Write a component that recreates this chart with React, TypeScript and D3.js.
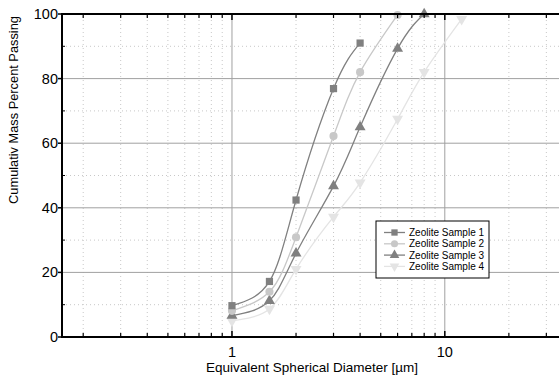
import { useEffect, useRef } from "react";
import * as d3 from "d3";

type Pt = { d: number; v: number };

const sample1: Pt[] = [
  { d: 1, v: 9.7 },
  { d: 1.5, v: 17.2 },
  { d: 2, v: 42.4 },
  { d: 3, v: 76.9 },
  { d: 4, v: 91.0 },
];
const sample2: Pt[] = [
  { d: 1, v: 8.1 },
  { d: 1.5, v: 14.0 },
  { d: 2, v: 30.9 },
  { d: 3, v: 62.2 },
  { d: 4, v: 82.0 },
  { d: 6, v: 99.7 },
];
const sample3: Pt[] = [
  { d: 1, v: 6.6 },
  { d: 1.5, v: 11.2 },
  { d: 2, v: 25.9 },
  { d: 3, v: 46.7 },
  { d: 4, v: 65.0 },
  { d: 6, v: 89.3 },
  { d: 8, v: 100 },
];
const sample4: Pt[] = [
  { d: 1, v: 5.0 },
  { d: 1.5, v: 8.7 },
  { d: 2, v: 21.0 },
  { d: 3, v: 37.2 },
  { d: 4, v: 47.8 },
  { d: 6, v: 67.5 },
  { d: 8, v: 82.0 },
  { d: 12, v: 98.4 },
];

const seriesNames = ["Zeolite Sample 1", "Zeolite Sample 2", "Zeolite Sample 3", "Zeolite Sample 4"];
const seriesData = [sample1, sample2, sample3, sample4];
const seriesColors = ["#808080", "#c8c8c8", "#808080", "#e4e4e4"];
const seriesSymbols = [d3.symbolSquare, d3.symbolCircle, d3.symbolTriangle, d3.symbolTriangle];

const xDomain: [number, number] = [0.159, 34.4];
const yTicks = [0, 20, 40, 60, 80, 100];
const yMinor = [10, 30, 50, 70, 90];
const xMajor = [1, 10];
const xMinor = [0.2, 0.3, 0.4, 0.5, 0.6, 0.7, 0.8, 0.9, 2, 3, 4, 5, 6, 7, 8, 9, 20, 30];

export default function App() {
  const svgRef = useRef<SVGSVGElement>(null);

  useEffect(() => {
    if (!svgRef.current) return;
    const svg = d3.select(svgRef.current);
    svg.selectAll("*").remove();

    const W = 559;
    const H = 381;
    const margin = { top: 14, right: 0, bottom: 44, left: 62 };
    const font = "Liberation Sans, Arial, sans-serif";

    const x = d3.scaleLog().domain(xDomain).range([margin.left, W - margin.right]);
    const y = d3.scaleLinear().domain([0, 100]).range([H - margin.bottom, margin.top]);
    const x0 = margin.left;
    const x1 = W - margin.right;
    const y0 = H - margin.bottom;
    const y1 = margin.top;

    // グリッド（細かい点線）
    const g = svg.append("g");
    xMinor.forEach((t) => {
      g.append("line")
        .attr("x1", x(t)).attr("x2", x(t)).attr("y1", y0).attr("y2", y1)
        .attr("stroke", "#c8c8c8").attr("stroke-dasharray", "1,3");
    });
    yMinor.forEach((t) => {
      g.append("line")
        .attr("x1", x0).attr("x2", x1).attr("y1", y(t)).attr("y2", y(t))
        .attr("stroke", "#c8c8c8").attr("stroke-dasharray", "1,3");
    });
    // 主グリッド
    xMajor.forEach((t) => {
      g.append("line")
        .attr("x1", x(t)).attr("x2", x(t)).attr("y1", y0).attr("y2", y1)
        .attr("stroke", "#a0a0a0");
    });
    yTicks.slice(1, -1).forEach((t) => {
      g.append("line")
        .attr("x1", x0).attr("x2", x1).attr("y1", y(t)).attr("y2", y(t))
        .attr("stroke", "#a0a0a0");
    });

    // 曲線とマーカー
    const line = d3
      .line<Pt>()
      .x((p) => x(p.d))
      .y((p) => y(p.v))
      .curve(d3.curveNatural);

    for (let i = seriesData.length - 1; i >= 0; i--) {
      g.append("path")
        .datum(seriesData[i])
        .attr("fill", "none")
        .attr("stroke", seriesColors[i])
        .attr("stroke-width", 1.3)
        .attr("d", line);
    }
    for (let i = seriesData.length - 1; i >= 0; i--) {
      const sym = d3.symbol().type(seriesSymbols[i]).size(i === 1 ? 52 : 52);
      seriesData[i].forEach((p) => {
        g.append("path")
          .attr("d", sym())
          .attr("transform", `translate(${x(p.d)},${y(p.v)})${i === 3 ? " rotate(180)" : ""}`)
          .attr("fill", seriesColors[i]);
      });
    }

    // 軸
    const ax = svg.append("g");
    ax.append("line").attr("x1", x0).attr("x2", x1).attr("y1", y0).attr("y2", y0)
      .attr("stroke", "#000").attr("stroke-width", 2);
    ax.append("line").attr("x1", x0).attr("x2", x1).attr("y1", y1).attr("y2", y1)
      .attr("stroke", "#000").attr("stroke-width", 2);
    ax.append("line").attr("x1", x0).attr("x2", x0).attr("y1", y0 + 1).attr("y2", y1 - 1)
      .attr("stroke", "#000").attr("stroke-width", 2);

    xMajor.forEach((t) => {
      [y0, y1].forEach((yy, k) => {
        ax.append("line")
          .attr("x1", x(t)).attr("x2", x(t)).attr("y1", yy).attr("y2", k === 0 ? yy - 6 : yy + 6)
          .attr("stroke", "#000").attr("stroke-width", 1.5);
      });
      ax.append("text")
        .attr("x", x(t)).attr("y", y0 + 20)
        .attr("text-anchor", "middle")
        .attr("font-family", font).attr("font-size", 14.5)
        .text(String(t));
    });
    xMinor.forEach((t) => {
      [y0, y1].forEach((yy, k) => {
        ax.append("line")
          .attr("x1", x(t)).attr("x2", x(t)).attr("y1", yy).attr("y2", k === 0 ? yy - 4 : yy + 4)
          .attr("stroke", "#000").attr("stroke-width", 1.2);
      });
    });
    yTicks.forEach((t) => {
      ax.append("line")
        .attr("x1", x0 - 4).attr("x2", x0).attr("y1", y(t)).attr("y2", y(t))
        .attr("stroke", "#000").attr("stroke-width", 1.5);
      ax.append("text")
        .attr("x", x0 - 4).attr("y", y(t) + 5)
        .attr("text-anchor", "end")
        .attr("font-family", font).attr("font-size", 14.5)
        .text(String(t));
    });
    yMinor.forEach((t) => {
      ax.append("line")
        .attr("x1", x0).attr("x2", x0 + 3).attr("y1", y(t)).attr("y2", y(t))
        .attr("stroke", "#000").attr("stroke-width", 1);
    });

    // 軸タイトル
    svg.append("text")
      .attr("x", 312).attr("y", H - 9)
      .attr("text-anchor", "middle")
      .attr("font-family", font).attr("font-size", 13.5)
      .text("Equivalent Spherical Diameter [µm]");
    svg.append("text")
      .attr("transform", `translate(18,110) rotate(-90)`)
      .attr("text-anchor", "middle")
      .attr("font-family", font).attr("font-size", 12.8)
      .text("Cumulativ Mass Percent Passing");

    // 凡例
    const lg = svg.append("g").attr("transform", "translate(376,221)");
    lg.append("rect")
      .attr("width", 113).attr("height", 57)
      .attr("fill", "#fff").attr("stroke", "#000").attr("stroke-width", 1);
    seriesNames.forEach((name, i) => {
      const cy = 11.5 + i * 11.3;
      lg.append("line")
        .attr("x1", 8).attr("x2", 29).attr("y1", cy).attr("y2", cy)
        .attr("stroke", seriesColors[i]).attr("stroke-width", 1.3);
      lg.append("path")
        .attr("d", d3.symbol().type(seriesSymbols[i]).size(40)())
        .attr("transform", `translate(18.5,${cy})${i === 3 ? " rotate(180)" : ""}`)
        .attr("fill", seriesColors[i]);
      lg.append("text")
        .attr("x", 33).attr("y", cy + 3.5)
        .attr("font-family", font).attr("font-size", 10)
        .text(name);
    });
  }, []);

  return (
    <svg
      ref={svgRef}
      width={559}
      height={381}
      style={{ position: "absolute", left: 0, top: 0, background: "#fff" }}
    />
  );
}
